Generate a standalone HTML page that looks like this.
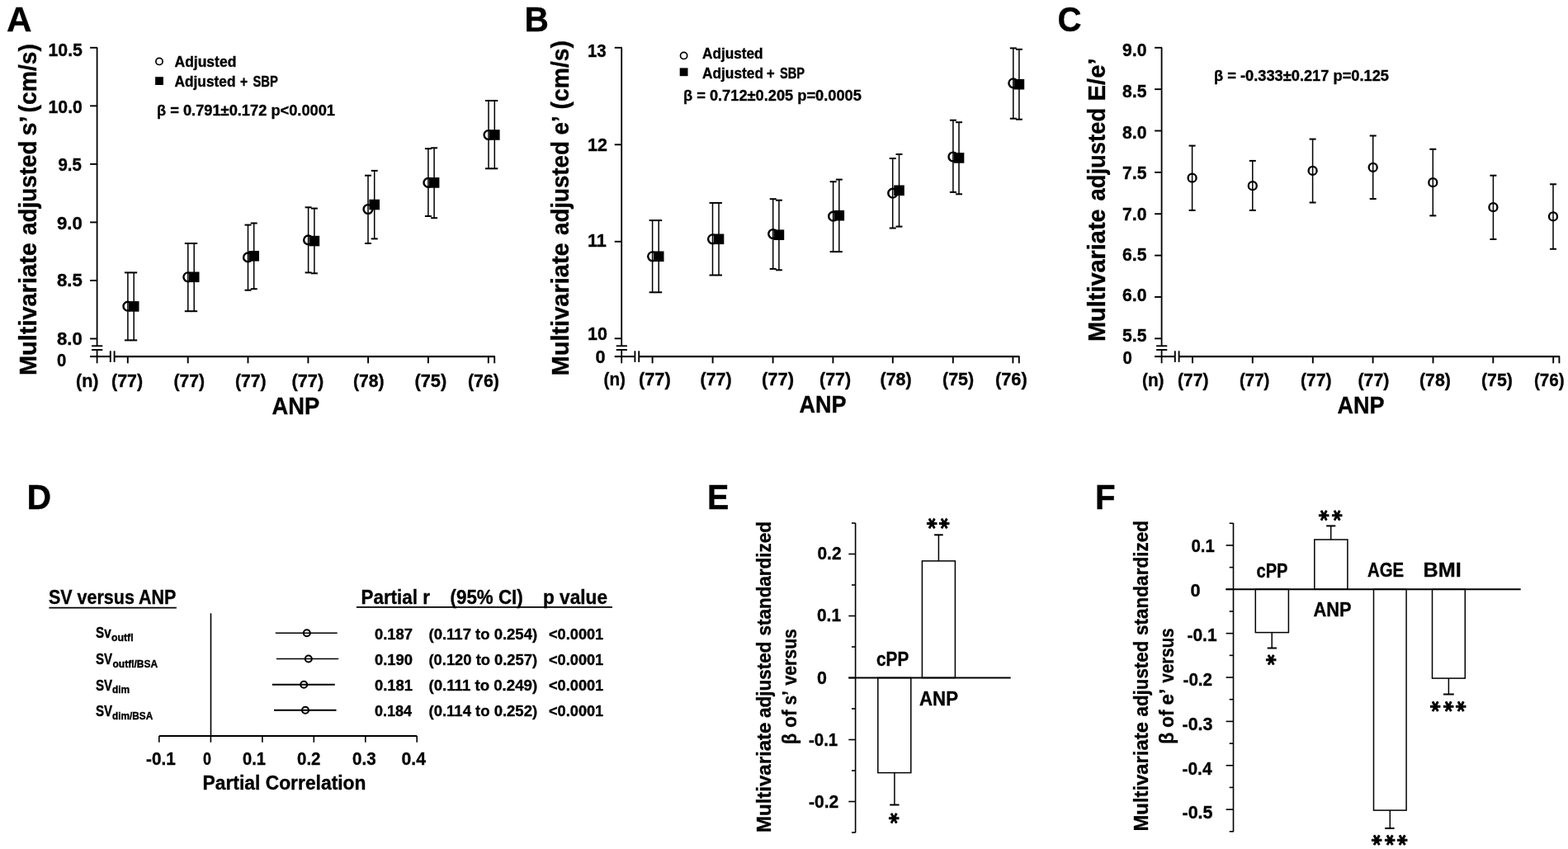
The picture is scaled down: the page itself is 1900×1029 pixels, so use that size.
<!DOCTYPE html><html><head><meta charset="utf-8"><style>
html,body{margin:0;padding:0;background:#fff;}
svg{display:block;}
text{font-family:"Liberation Sans",Arial,sans-serif;font-weight:bold;fill:#000;stroke:#000;stroke-width:0.35px;}
text.st{font-family:"DejaVu Sans",sans-serif;stroke:#000;stroke-width:1.0px;stroke-linejoin:round;}
</style></head><body><svg width="1900" height="1029" viewBox="0 0 1900 1029">
<g stroke="#000" stroke-linecap="butt" fill="none">
<line x1="117.60" y1="57.80" x2="117.60" y2="419.30" stroke-width="1.8"/>
<line x1="117.60" y1="424.00" x2="117.60" y2="440.30" stroke-width="1.8"/>
<line x1="109.10" y1="57.80" x2="118.10" y2="57.80" stroke-width="1.9"/>
<line x1="109.10" y1="128.34" x2="118.10" y2="128.34" stroke-width="1.9"/>
<line x1="109.10" y1="198.88" x2="118.10" y2="198.88" stroke-width="1.9"/>
<line x1="109.10" y1="269.42" x2="118.10" y2="269.42" stroke-width="1.9"/>
<line x1="109.10" y1="339.96" x2="118.10" y2="339.96" stroke-width="1.9"/>
<line x1="109.10" y1="410.50" x2="118.10" y2="410.50" stroke-width="1.9"/>
<line x1="111.10" y1="419.30" x2="124.30" y2="419.30" stroke-width="1.9"/>
<line x1="111.10" y1="424.00" x2="124.30" y2="424.00" stroke-width="1.9"/>
<line x1="109.10" y1="432.10" x2="133.80" y2="432.10" stroke-width="2.1"/>
<line x1="138.60" y1="432.10" x2="599.80" y2="432.10" stroke-width="2.1"/>
<line x1="133.80" y1="425.30" x2="133.80" y2="438.90" stroke-width="1.9"/>
<line x1="138.60" y1="425.30" x2="138.60" y2="438.90" stroke-width="1.9"/>
<line x1="154.80" y1="432.10" x2="154.80" y2="440.30" stroke-width="1.9"/>
<line x1="227.70" y1="432.10" x2="227.70" y2="440.30" stroke-width="1.9"/>
<line x1="300.50" y1="432.10" x2="300.50" y2="440.30" stroke-width="1.9"/>
<line x1="373.40" y1="432.10" x2="373.40" y2="440.30" stroke-width="1.9"/>
<line x1="446.10" y1="432.10" x2="446.10" y2="440.30" stroke-width="1.9"/>
<line x1="518.90" y1="432.10" x2="518.90" y2="440.30" stroke-width="1.9"/>
<line x1="591.80" y1="432.10" x2="591.80" y2="440.30" stroke-width="1.9"/>
<line x1="599.20" y1="432.10" x2="599.20" y2="440.30" stroke-width="1.9"/>
<line x1="753.20" y1="57.80" x2="753.20" y2="419.30" stroke-width="1.8"/>
<line x1="753.20" y1="424.00" x2="753.20" y2="440.30" stroke-width="1.8"/>
<line x1="744.70" y1="57.80" x2="753.70" y2="57.80" stroke-width="1.9"/>
<line x1="744.70" y1="175.30" x2="753.70" y2="175.30" stroke-width="1.9"/>
<line x1="744.70" y1="292.80" x2="753.70" y2="292.80" stroke-width="1.9"/>
<line x1="744.70" y1="410.30" x2="753.70" y2="410.30" stroke-width="1.9"/>
<line x1="746.70" y1="419.30" x2="759.90" y2="419.30" stroke-width="1.9"/>
<line x1="746.70" y1="424.00" x2="759.90" y2="424.00" stroke-width="1.9"/>
<line x1="744.70" y1="432.10" x2="769.40" y2="432.10" stroke-width="2.1"/>
<line x1="774.20" y1="432.10" x2="1235.40" y2="432.10" stroke-width="2.1"/>
<line x1="769.40" y1="425.30" x2="769.40" y2="438.90" stroke-width="1.9"/>
<line x1="774.20" y1="425.30" x2="774.20" y2="438.90" stroke-width="1.9"/>
<line x1="790.60" y1="432.10" x2="790.60" y2="440.30" stroke-width="1.9"/>
<line x1="863.60" y1="432.10" x2="863.60" y2="440.30" stroke-width="1.9"/>
<line x1="936.60" y1="432.10" x2="936.60" y2="440.30" stroke-width="1.9"/>
<line x1="1009.40" y1="432.10" x2="1009.40" y2="440.30" stroke-width="1.9"/>
<line x1="1081.80" y1="432.10" x2="1081.80" y2="440.30" stroke-width="1.9"/>
<line x1="1154.80" y1="432.10" x2="1154.80" y2="440.30" stroke-width="1.9"/>
<line x1="1227.40" y1="432.10" x2="1227.40" y2="440.30" stroke-width="1.9"/>
<line x1="1234.80" y1="432.10" x2="1234.80" y2="440.30" stroke-width="1.9"/>
<line x1="154.90" y1="330.40" x2="154.90" y2="412.40" stroke-width="1.5"/>
<line x1="150.90" y1="330.40" x2="158.90" y2="330.40" stroke-width="2.0"/>
<line x1="150.90" y1="412.40" x2="158.90" y2="412.40" stroke-width="2.0"/>
<line x1="162.20" y1="330.40" x2="162.20" y2="412.40" stroke-width="1.5"/>
<line x1="158.20" y1="330.40" x2="166.20" y2="330.40" stroke-width="2.0"/>
<line x1="158.20" y1="412.40" x2="166.20" y2="412.40" stroke-width="2.0"/>
<circle cx="154.90" cy="371.20" r="5.40" fill="none" stroke-width="2.4"/>
<rect x="155.90" y="365.10" width="12.60" height="12.60" fill="#000" stroke="none"/>
<line x1="227.80" y1="295.00" x2="227.80" y2="377.20" stroke-width="1.5"/>
<line x1="223.80" y1="295.00" x2="231.80" y2="295.00" stroke-width="2.0"/>
<line x1="223.80" y1="377.20" x2="231.80" y2="377.20" stroke-width="2.0"/>
<line x1="235.20" y1="295.00" x2="235.20" y2="377.20" stroke-width="1.5"/>
<line x1="231.20" y1="295.00" x2="239.20" y2="295.00" stroke-width="2.0"/>
<line x1="231.20" y1="377.20" x2="239.20" y2="377.20" stroke-width="2.0"/>
<circle cx="227.80" cy="335.80" r="5.40" fill="none" stroke-width="2.4"/>
<rect x="228.90" y="329.50" width="12.60" height="12.60" fill="#000" stroke="none"/>
<line x1="300.50" y1="272.60" x2="300.50" y2="351.70" stroke-width="1.5"/>
<line x1="296.50" y1="272.60" x2="304.50" y2="272.60" stroke-width="2.0"/>
<line x1="296.50" y1="351.70" x2="304.50" y2="351.70" stroke-width="2.0"/>
<line x1="307.70" y1="270.50" x2="307.70" y2="350.20" stroke-width="1.5"/>
<line x1="303.70" y1="270.50" x2="311.70" y2="270.50" stroke-width="2.0"/>
<line x1="303.70" y1="350.20" x2="311.70" y2="350.20" stroke-width="2.0"/>
<circle cx="300.50" cy="311.90" r="5.40" fill="none" stroke-width="2.4"/>
<rect x="301.40" y="304.00" width="12.60" height="12.60" fill="#000" stroke="none"/>
<line x1="373.60" y1="251.30" x2="373.60" y2="330.40" stroke-width="1.5"/>
<line x1="369.60" y1="251.30" x2="377.60" y2="251.30" stroke-width="2.0"/>
<line x1="369.60" y1="330.40" x2="377.60" y2="330.40" stroke-width="2.0"/>
<line x1="380.90" y1="252.60" x2="380.90" y2="331.30" stroke-width="1.5"/>
<line x1="376.90" y1="252.60" x2="384.90" y2="252.60" stroke-width="2.0"/>
<line x1="376.90" y1="331.30" x2="384.90" y2="331.30" stroke-width="2.0"/>
<circle cx="373.60" cy="290.90" r="5.40" fill="none" stroke-width="2.4"/>
<rect x="374.60" y="285.80" width="12.60" height="12.60" fill="#000" stroke="none"/>
<line x1="446.00" y1="212.70" x2="446.00" y2="295.00" stroke-width="1.5"/>
<line x1="442.00" y1="212.70" x2="450.00" y2="212.70" stroke-width="2.0"/>
<line x1="442.00" y1="295.00" x2="450.00" y2="295.00" stroke-width="2.0"/>
<line x1="453.70" y1="206.90" x2="453.70" y2="289.40" stroke-width="1.5"/>
<line x1="449.70" y1="206.90" x2="457.70" y2="206.90" stroke-width="2.0"/>
<line x1="449.70" y1="289.40" x2="457.70" y2="289.40" stroke-width="2.0"/>
<circle cx="446.00" cy="253.50" r="5.40" fill="none" stroke-width="2.4"/>
<rect x="447.40" y="241.70" width="12.60" height="12.60" fill="#000" stroke="none"/>
<line x1="518.90" y1="180.20" x2="518.90" y2="262.00" stroke-width="1.5"/>
<line x1="514.90" y1="180.20" x2="522.90" y2="180.20" stroke-width="2.0"/>
<line x1="514.90" y1="262.00" x2="522.90" y2="262.00" stroke-width="2.0"/>
<line x1="526.10" y1="179.30" x2="526.10" y2="264.20" stroke-width="1.5"/>
<line x1="522.10" y1="179.30" x2="530.10" y2="179.30" stroke-width="2.0"/>
<line x1="522.10" y1="264.20" x2="530.10" y2="264.20" stroke-width="2.0"/>
<circle cx="518.90" cy="221.40" r="5.40" fill="none" stroke-width="2.4"/>
<rect x="519.80" y="215.10" width="12.60" height="12.60" fill="#000" stroke="none"/>
<line x1="592.00" y1="122.00" x2="592.00" y2="204.30" stroke-width="1.5"/>
<line x1="588.00" y1="122.00" x2="596.00" y2="122.00" stroke-width="2.0"/>
<line x1="588.00" y1="204.30" x2="596.00" y2="204.30" stroke-width="2.0"/>
<line x1="599.30" y1="122.00" x2="599.30" y2="204.30" stroke-width="1.5"/>
<line x1="595.30" y1="122.00" x2="603.30" y2="122.00" stroke-width="2.0"/>
<line x1="595.30" y1="204.30" x2="603.30" y2="204.30" stroke-width="2.0"/>
<circle cx="592.00" cy="163.50" r="5.40" fill="none" stroke-width="2.4"/>
<rect x="593.00" y="157.20" width="12.60" height="12.60" fill="#000" stroke="none"/>
<line x1="790.60" y1="267.10" x2="790.60" y2="354.30" stroke-width="1.5"/>
<line x1="786.60" y1="267.10" x2="794.60" y2="267.10" stroke-width="2.0"/>
<line x1="786.60" y1="354.30" x2="794.60" y2="354.30" stroke-width="2.0"/>
<line x1="798.20" y1="267.10" x2="798.20" y2="354.30" stroke-width="1.5"/>
<line x1="794.20" y1="267.10" x2="802.20" y2="267.10" stroke-width="2.0"/>
<line x1="794.20" y1="354.30" x2="802.20" y2="354.30" stroke-width="2.0"/>
<circle cx="790.60" cy="310.80" r="5.40" fill="none" stroke-width="2.4"/>
<rect x="791.90" y="304.50" width="12.60" height="12.60" fill="#000" stroke="none"/>
<line x1="863.50" y1="245.90" x2="863.50" y2="333.50" stroke-width="1.5"/>
<line x1="859.50" y1="245.90" x2="867.50" y2="245.90" stroke-width="2.0"/>
<line x1="859.50" y1="333.50" x2="867.50" y2="333.50" stroke-width="2.0"/>
<line x1="871.00" y1="245.90" x2="871.00" y2="333.50" stroke-width="1.5"/>
<line x1="867.00" y1="245.90" x2="875.00" y2="245.90" stroke-width="2.0"/>
<line x1="867.00" y1="333.50" x2="875.00" y2="333.50" stroke-width="2.0"/>
<circle cx="863.50" cy="289.80" r="5.40" fill="none" stroke-width="2.4"/>
<rect x="864.70" y="283.50" width="12.60" height="12.60" fill="#000" stroke="none"/>
<line x1="936.70" y1="241.20" x2="936.70" y2="325.90" stroke-width="1.5"/>
<line x1="932.70" y1="241.20" x2="940.70" y2="241.20" stroke-width="2.0"/>
<line x1="932.70" y1="325.90" x2="940.70" y2="325.90" stroke-width="2.0"/>
<line x1="943.90" y1="242.70" x2="943.90" y2="327.30" stroke-width="1.5"/>
<line x1="939.90" y1="242.70" x2="947.90" y2="242.70" stroke-width="2.0"/>
<line x1="939.90" y1="327.30" x2="947.90" y2="327.30" stroke-width="2.0"/>
<circle cx="936.70" cy="283.50" r="5.40" fill="none" stroke-width="2.4"/>
<rect x="937.60" y="278.40" width="12.60" height="12.60" fill="#000" stroke="none"/>
<line x1="1009.60" y1="220.20" x2="1009.60" y2="305.10" stroke-width="1.5"/>
<line x1="1005.60" y1="220.20" x2="1013.60" y2="220.20" stroke-width="2.0"/>
<line x1="1005.60" y1="305.10" x2="1013.60" y2="305.10" stroke-width="2.0"/>
<line x1="1016.80" y1="217.60" x2="1016.80" y2="305.10" stroke-width="1.5"/>
<line x1="1012.80" y1="217.60" x2="1020.80" y2="217.60" stroke-width="2.0"/>
<line x1="1012.80" y1="305.10" x2="1020.80" y2="305.10" stroke-width="2.0"/>
<circle cx="1009.60" cy="262.20" r="5.40" fill="none" stroke-width="2.4"/>
<rect x="1010.50" y="254.90" width="12.60" height="12.60" fill="#000" stroke="none"/>
<line x1="1081.70" y1="192.00" x2="1081.70" y2="276.50" stroke-width="1.5"/>
<line x1="1077.70" y1="192.00" x2="1085.70" y2="192.00" stroke-width="2.0"/>
<line x1="1077.70" y1="276.50" x2="1085.70" y2="276.50" stroke-width="2.0"/>
<line x1="1089.50" y1="187.00" x2="1089.50" y2="274.60" stroke-width="1.5"/>
<line x1="1085.50" y1="187.00" x2="1093.50" y2="187.00" stroke-width="2.0"/>
<line x1="1085.50" y1="274.60" x2="1093.50" y2="274.60" stroke-width="2.0"/>
<circle cx="1081.70" cy="234.20" r="5.40" fill="none" stroke-width="2.4"/>
<rect x="1083.20" y="224.50" width="12.60" height="12.60" fill="#000" stroke="none"/>
<line x1="1154.90" y1="145.70" x2="1154.90" y2="232.90" stroke-width="1.5"/>
<line x1="1150.90" y1="145.70" x2="1158.90" y2="145.70" stroke-width="2.0"/>
<line x1="1150.90" y1="232.90" x2="1158.90" y2="232.90" stroke-width="2.0"/>
<line x1="1162.00" y1="148.20" x2="1162.00" y2="235.30" stroke-width="1.5"/>
<line x1="1158.00" y1="148.20" x2="1166.00" y2="148.20" stroke-width="2.0"/>
<line x1="1158.00" y1="235.30" x2="1166.00" y2="235.30" stroke-width="2.0"/>
<circle cx="1154.90" cy="190.00" r="5.40" fill="none" stroke-width="2.4"/>
<rect x="1155.70" y="185.10" width="12.60" height="12.60" fill="#000" stroke="none"/>
<line x1="1227.80" y1="58.40" x2="1227.80" y2="143.70" stroke-width="1.5"/>
<line x1="1223.80" y1="58.40" x2="1231.80" y2="58.40" stroke-width="2.0"/>
<line x1="1223.80" y1="143.70" x2="1231.80" y2="143.70" stroke-width="2.0"/>
<line x1="1234.90" y1="59.80" x2="1234.90" y2="144.70" stroke-width="1.5"/>
<line x1="1230.90" y1="59.80" x2="1238.90" y2="59.80" stroke-width="2.0"/>
<line x1="1230.90" y1="144.70" x2="1238.90" y2="144.70" stroke-width="2.0"/>
<circle cx="1227.80" cy="100.80" r="5.40" fill="none" stroke-width="2.4"/>
<rect x="1228.60" y="95.90" width="12.60" height="12.60" fill="#000" stroke="none"/>
<line x1="1407.60" y1="57.80" x2="1407.60" y2="419.30" stroke-width="1.8"/>
<line x1="1407.60" y1="424.00" x2="1407.60" y2="440.30" stroke-width="1.8"/>
<line x1="1399.10" y1="57.80" x2="1408.10" y2="57.80" stroke-width="1.9"/>
<line x1="1399.10" y1="108.16" x2="1408.10" y2="108.16" stroke-width="1.9"/>
<line x1="1399.10" y1="158.52" x2="1408.10" y2="158.52" stroke-width="1.9"/>
<line x1="1399.10" y1="208.88" x2="1408.10" y2="208.88" stroke-width="1.9"/>
<line x1="1399.10" y1="259.24" x2="1408.10" y2="259.24" stroke-width="1.9"/>
<line x1="1399.10" y1="309.60" x2="1408.10" y2="309.60" stroke-width="1.9"/>
<line x1="1399.10" y1="359.96" x2="1408.10" y2="359.96" stroke-width="1.9"/>
<line x1="1399.10" y1="410.32" x2="1408.10" y2="410.32" stroke-width="1.9"/>
<line x1="1401.10" y1="419.30" x2="1414.30" y2="419.30" stroke-width="1.9"/>
<line x1="1401.10" y1="424.00" x2="1414.30" y2="424.00" stroke-width="1.9"/>
<line x1="1399.10" y1="432.10" x2="1423.80" y2="432.10" stroke-width="2.1"/>
<line x1="1428.60" y1="432.10" x2="1890.00" y2="432.10" stroke-width="2.1"/>
<line x1="1423.80" y1="425.30" x2="1423.80" y2="438.90" stroke-width="1.9"/>
<line x1="1428.60" y1="425.30" x2="1428.60" y2="438.90" stroke-width="1.9"/>
<line x1="1445.00" y1="432.10" x2="1445.00" y2="440.30" stroke-width="1.9"/>
<line x1="1517.80" y1="432.10" x2="1517.80" y2="440.30" stroke-width="1.9"/>
<line x1="1590.80" y1="432.10" x2="1590.80" y2="440.30" stroke-width="1.9"/>
<line x1="1663.60" y1="432.10" x2="1663.60" y2="440.30" stroke-width="1.9"/>
<line x1="1736.50" y1="432.10" x2="1736.50" y2="440.30" stroke-width="1.9"/>
<line x1="1809.30" y1="432.10" x2="1809.30" y2="440.30" stroke-width="1.9"/>
<line x1="1882.20" y1="432.10" x2="1882.20" y2="440.30" stroke-width="1.9"/>
<line x1="1889.40" y1="432.10" x2="1889.40" y2="440.30" stroke-width="1.9"/>
<line x1="1444.60" y1="176.60" x2="1444.60" y2="254.90" stroke-width="1.5"/>
<line x1="1440.60" y1="176.60" x2="1448.60" y2="176.60" stroke-width="2.0"/>
<line x1="1440.60" y1="254.90" x2="1448.60" y2="254.90" stroke-width="2.0"/>
<circle cx="1444.60" cy="215.70" r="5.00" fill="none" stroke-width="2.3"/>
<line x1="1517.80" y1="194.90" x2="1517.80" y2="254.90" stroke-width="1.5"/>
<line x1="1513.80" y1="194.90" x2="1521.80" y2="194.90" stroke-width="2.0"/>
<line x1="1513.80" y1="254.90" x2="1521.80" y2="254.90" stroke-width="2.0"/>
<circle cx="1517.80" cy="225.20" r="5.00" fill="none" stroke-width="2.3"/>
<line x1="1590.60" y1="168.60" x2="1590.60" y2="245.50" stroke-width="1.5"/>
<line x1="1586.60" y1="168.60" x2="1594.60" y2="168.60" stroke-width="2.0"/>
<line x1="1586.60" y1="245.50" x2="1594.60" y2="245.50" stroke-width="2.0"/>
<circle cx="1590.60" cy="206.90" r="5.00" fill="none" stroke-width="2.3"/>
<line x1="1663.70" y1="164.50" x2="1663.70" y2="241.00" stroke-width="1.5"/>
<line x1="1659.70" y1="164.50" x2="1667.70" y2="164.50" stroke-width="2.0"/>
<line x1="1659.70" y1="241.00" x2="1667.70" y2="241.00" stroke-width="2.0"/>
<circle cx="1663.70" cy="202.90" r="5.00" fill="none" stroke-width="2.3"/>
<line x1="1736.30" y1="180.80" x2="1736.30" y2="261.40" stroke-width="1.5"/>
<line x1="1732.30" y1="180.80" x2="1740.30" y2="180.80" stroke-width="2.0"/>
<line x1="1732.30" y1="261.40" x2="1740.30" y2="261.40" stroke-width="2.0"/>
<circle cx="1736.30" cy="221.20" r="5.00" fill="none" stroke-width="2.3"/>
<line x1="1809.40" y1="212.70" x2="1809.40" y2="290.00" stroke-width="1.5"/>
<line x1="1805.40" y1="212.70" x2="1813.40" y2="212.70" stroke-width="2.0"/>
<line x1="1805.40" y1="290.00" x2="1813.40" y2="290.00" stroke-width="2.0"/>
<circle cx="1809.40" cy="251.20" r="5.00" fill="none" stroke-width="2.3"/>
<line x1="1882.00" y1="223.30" x2="1882.00" y2="301.80" stroke-width="1.5"/>
<line x1="1878.00" y1="223.30" x2="1886.00" y2="223.30" stroke-width="2.0"/>
<line x1="1878.00" y1="301.80" x2="1886.00" y2="301.80" stroke-width="2.0"/>
<circle cx="1882.00" cy="262.40" r="5.00" fill="none" stroke-width="2.3"/>
<circle cx="193.00" cy="74.40" r="4.10" fill="none" stroke-width="1.7"/>
<rect x="188.10" y="93.20" width="9.80" height="9.80" fill="#000" stroke="none"/>
<circle cx="828.60" cy="67.40" r="4.10" fill="none" stroke-width="1.7"/>
<rect x="823.70" y="82.40" width="9.80" height="9.80" fill="#000" stroke="none"/>
<line x1="59.40" y1="736.60" x2="213.90" y2="736.60" stroke-width="1.8"/>
<line x1="431.90" y1="735.90" x2="742.00" y2="735.90" stroke-width="1.8"/>
<line x1="255.50" y1="743.30" x2="255.50" y2="892.00" stroke-width="1.6"/>
<line x1="192.80" y1="892.00" x2="505.20" y2="892.00" stroke-width="2.1"/>
<line x1="192.80" y1="892.00" x2="192.80" y2="899.80" stroke-width="1.6"/>
<line x1="255.40" y1="892.00" x2="255.40" y2="899.80" stroke-width="1.6"/>
<line x1="317.90" y1="892.00" x2="317.90" y2="899.80" stroke-width="1.6"/>
<line x1="380.30" y1="892.00" x2="380.30" y2="899.80" stroke-width="1.6"/>
<line x1="442.80" y1="892.00" x2="442.80" y2="899.80" stroke-width="1.6"/>
<line x1="505.20" y1="892.00" x2="505.20" y2="899.80" stroke-width="1.6"/>
<line x1="333.80" y1="767.30" x2="408.70" y2="767.30" stroke-width="1.5"/>
<circle cx="371.80" cy="767.30" r="4.00" fill="none" stroke-width="2.1"/>
<line x1="334.90" y1="798.50" x2="410.20" y2="798.50" stroke-width="1.5"/>
<circle cx="373.80" cy="798.50" r="4.00" fill="none" stroke-width="2.1"/>
<line x1="329.80" y1="829.80" x2="405.80" y2="829.80" stroke-width="2.0"/>
<circle cx="368.20" cy="829.80" r="4.00" fill="none" stroke-width="2.1"/>
<line x1="332.00" y1="860.70" x2="407.50" y2="860.70" stroke-width="2.0"/>
<circle cx="370.00" cy="860.70" r="4.00" fill="none" stroke-width="2.1"/>
<line x1="1036.60" y1="634.00" x2="1036.60" y2="1009.30" stroke-width="1.6"/>
<line x1="1032.00" y1="1009.00" x2="1036.60" y2="1009.00" stroke-width="1.6"/>
<line x1="1028.30" y1="971.50" x2="1036.60" y2="971.50" stroke-width="1.6"/>
<line x1="1032.00" y1="934.00" x2="1036.60" y2="934.00" stroke-width="1.6"/>
<line x1="1028.30" y1="896.50" x2="1036.60" y2="896.50" stroke-width="1.6"/>
<line x1="1032.00" y1="859.00" x2="1036.60" y2="859.00" stroke-width="1.6"/>
<line x1="1028.30" y1="821.50" x2="1036.60" y2="821.50" stroke-width="1.6"/>
<line x1="1032.00" y1="784.00" x2="1036.60" y2="784.00" stroke-width="1.6"/>
<line x1="1028.30" y1="746.50" x2="1036.60" y2="746.50" stroke-width="1.6"/>
<line x1="1032.00" y1="709.00" x2="1036.60" y2="709.00" stroke-width="1.6"/>
<line x1="1028.30" y1="671.50" x2="1036.60" y2="671.50" stroke-width="1.6"/>
<line x1="1032.00" y1="634.00" x2="1036.60" y2="634.00" stroke-width="1.6"/>
<line x1="1028.30" y1="821.50" x2="1224.70" y2="821.50" stroke-width="2.1"/>
<rect x="1063.80" y="821.50" width="40.00" height="115.10" fill="none" stroke-width="1.5"/>
<line x1="1083.90" y1="936.60" x2="1083.90" y2="975.50" stroke-width="1.5"/>
<line x1="1078.20" y1="975.50" x2="1089.60" y2="975.50" stroke-width="2.0"/>
<rect x="1117.40" y="679.90" width="40.00" height="141.60" fill="none" stroke-width="1.5"/>
<line x1="1137.40" y1="679.90" x2="1137.40" y2="648.30" stroke-width="1.5"/>
<line x1="1132.10" y1="648.30" x2="1142.70" y2="648.30" stroke-width="2.0"/>
<line x1="1494.50" y1="634.00" x2="1494.50" y2="1008.30" stroke-width="1.6"/>
<line x1="1489.70" y1="1007.78" x2="1494.50" y2="1007.78" stroke-width="1.6"/>
<line x1="1485.60" y1="981.10" x2="1494.50" y2="981.10" stroke-width="1.6"/>
<line x1="1489.70" y1="954.42" x2="1494.50" y2="954.42" stroke-width="1.6"/>
<line x1="1485.60" y1="927.74" x2="1494.50" y2="927.74" stroke-width="1.6"/>
<line x1="1489.70" y1="901.06" x2="1494.50" y2="901.06" stroke-width="1.6"/>
<line x1="1485.60" y1="874.38" x2="1494.50" y2="874.38" stroke-width="1.6"/>
<line x1="1489.70" y1="847.70" x2="1494.50" y2="847.70" stroke-width="1.6"/>
<line x1="1485.60" y1="821.02" x2="1494.50" y2="821.02" stroke-width="1.6"/>
<line x1="1489.70" y1="794.34" x2="1494.50" y2="794.34" stroke-width="1.6"/>
<line x1="1485.60" y1="767.66" x2="1494.50" y2="767.66" stroke-width="1.6"/>
<line x1="1489.70" y1="740.98" x2="1494.50" y2="740.98" stroke-width="1.6"/>
<line x1="1485.60" y1="714.30" x2="1494.50" y2="714.30" stroke-width="1.6"/>
<line x1="1489.70" y1="687.62" x2="1494.50" y2="687.62" stroke-width="1.6"/>
<line x1="1485.60" y1="660.94" x2="1494.50" y2="660.94" stroke-width="1.6"/>
<line x1="1489.70" y1="634.26" x2="1494.50" y2="634.26" stroke-width="1.6"/>
<line x1="1485.40" y1="714.30" x2="1842.70" y2="714.30" stroke-width="2.1"/>
<rect x="1521.30" y="714.30" width="40.10" height="52.30" fill="none" stroke-width="1.5"/>
<line x1="1541.20" y1="766.60" x2="1541.20" y2="785.50" stroke-width="1.5"/>
<line x1="1535.70" y1="785.50" x2="1547.00" y2="785.50" stroke-width="2.0"/>
<rect x="1592.80" y="654.00" width="40.10" height="60.30" fill="none" stroke-width="1.5"/>
<line x1="1612.70" y1="654.00" x2="1612.70" y2="637.40" stroke-width="1.5"/>
<line x1="1607.20" y1="637.40" x2="1618.30" y2="637.40" stroke-width="2.0"/>
<rect x="1664.50" y="714.30" width="39.60" height="267.80" fill="none" stroke-width="1.5"/>
<line x1="1684.30" y1="982.10" x2="1684.30" y2="1003.90" stroke-width="1.5"/>
<line x1="1678.20" y1="1003.90" x2="1689.60" y2="1003.90" stroke-width="2.0"/>
<rect x="1735.50" y="714.30" width="39.80" height="107.80" fill="none" stroke-width="1.5"/>
<line x1="1755.40" y1="822.10" x2="1755.40" y2="841.50" stroke-width="1.5"/>
<line x1="1749.00" y1="841.50" x2="1761.80" y2="841.50" stroke-width="2.0"/>
</g>
<g>
<text x="8.00" y="37.80" font-size="43.30" textLength="30.52" lengthAdjust="spacingAndGlyphs">A</text>
<text x="635.50" y="37.90" font-size="43.30" textLength="29.41" lengthAdjust="spacingAndGlyphs">B</text>
<text x="1281.50" y="38.20" font-size="43.30" textLength="29.05" lengthAdjust="spacingAndGlyphs">C</text>
<text x="32.50" y="616.80" font-size="43.30" textLength="29.64" lengthAdjust="spacingAndGlyphs">D</text>
<text x="857.00" y="616.80" font-size="43.30" textLength="26.34" lengthAdjust="spacingAndGlyphs">E</text>
<text x="1327.00" y="616.80" font-size="43.30" textLength="24.62" lengthAdjust="spacingAndGlyphs">F</text>
<text transform="translate(44.00,136.50) rotate(-90)" x="0" y="0" font-size="29.50" textLength="83.47" lengthAdjust="spacingAndGlyphs">(cm/s)</text>
<text transform="translate(44.00,164.50) rotate(-90)" x="0" y="0" font-size="29.50" textLength="24.00" lengthAdjust="spacingAndGlyphs">s’</text>
<text transform="translate(44.00,285.00) rotate(-90)" x="0" y="0" font-size="29.50" textLength="114.65" lengthAdjust="spacingAndGlyphs">adjusted</text>
<text transform="translate(44.00,455.00) rotate(-90)" x="0" y="0" font-size="29.50" textLength="160.84" lengthAdjust="spacingAndGlyphs">Multivariate</text>
<text x="58.50" y="67.50" font-size="22.10" textLength="41.46" lengthAdjust="spacingAndGlyphs">10.5</text>
<text x="58.50" y="137.30" font-size="22.10" textLength="41.44" lengthAdjust="spacingAndGlyphs">10.0</text>
<text x="70.50" y="206.50" font-size="22.10" textLength="28.40" lengthAdjust="spacingAndGlyphs">9.5</text>
<text x="69.00" y="277.90" font-size="22.10" textLength="30.84" lengthAdjust="spacingAndGlyphs">9.0</text>
<text x="69.00" y="347.20" font-size="22.10" textLength="30.84" lengthAdjust="spacingAndGlyphs">8.5</text>
<text x="69.00" y="417.60" font-size="22.10" textLength="30.84" lengthAdjust="spacingAndGlyphs">8.0</text>
<text x="69.00" y="444.40" font-size="22.10" textLength="11.34" lengthAdjust="spacingAndGlyphs">0</text>
<text x="211.50" y="80.60" font-size="18.20" textLength="74.82" lengthAdjust="spacingAndGlyphs">Adjusted</text>
<text x="211.50" y="105.00" font-size="18.20" textLength="74.03" lengthAdjust="spacingAndGlyphs">Adjusted</text>
<text x="291.00" y="105.00" font-size="18.20" textLength="9.11" lengthAdjust="spacingAndGlyphs">+</text>
<text x="306.50" y="105.00" font-size="18.20" textLength="30.44" lengthAdjust="spacingAndGlyphs">SBP</text>
<text x="190.00" y="139.90" font-size="18.20" textLength="216.01" lengthAdjust="spacingAndGlyphs">β = 0.791±0.172 p&lt;0.0001</text>
<text x="92.00" y="468.80" font-size="22.00" textLength="27.49" lengthAdjust="spacingAndGlyphs">(n)</text>
<text x="135.00" y="468.80" font-size="22.00" textLength="38.06" lengthAdjust="spacingAndGlyphs">(77)</text>
<text x="210.50" y="468.80" font-size="22.00" textLength="37.66" lengthAdjust="spacingAndGlyphs">(77)</text>
<text x="285.00" y="468.80" font-size="22.00" textLength="37.66" lengthAdjust="spacingAndGlyphs">(77)</text>
<text x="353.50" y="468.80" font-size="22.00" textLength="38.66" lengthAdjust="spacingAndGlyphs">(77)</text>
<text x="428.00" y="468.80" font-size="22.00" textLength="37.62" lengthAdjust="spacingAndGlyphs">(78)</text>
<text x="502.50" y="468.80" font-size="22.00" textLength="38.72" lengthAdjust="spacingAndGlyphs">(75)</text>
<text x="567.00" y="468.80" font-size="22.00" textLength="37.86" lengthAdjust="spacingAndGlyphs">(76)</text>
<text x="329.50" y="502.40" font-size="29.20" textLength="57.61" lengthAdjust="spacingAndGlyphs">ANP</text>
<text transform="translate(688.70,132.50) rotate(-90)" x="0" y="0" font-size="29.50" textLength="83.50" lengthAdjust="spacingAndGlyphs">(cm/s)</text>
<text transform="translate(688.70,163.50) rotate(-90)" x="0" y="0" font-size="29.50" textLength="23.23" lengthAdjust="spacingAndGlyphs">e’</text>
<text transform="translate(688.70,285.00) rotate(-90)" x="0" y="0" font-size="29.50" textLength="113.84" lengthAdjust="spacingAndGlyphs">adjusted</text>
<text transform="translate(688.70,455.50) rotate(-90)" x="0" y="0" font-size="29.50" textLength="161.24" lengthAdjust="spacingAndGlyphs">Multivariate</text>
<text x="712.00" y="68.90" font-size="22.10" textLength="22.70" lengthAdjust="spacingAndGlyphs">13</text>
<text x="712.00" y="183.40" font-size="22.10" textLength="23.90" lengthAdjust="spacingAndGlyphs">12</text>
<text x="712.00" y="298.60" font-size="22.10" textLength="22.85" lengthAdjust="spacingAndGlyphs">11</text>
<text x="712.00" y="412.30" font-size="22.10" textLength="23.90" lengthAdjust="spacingAndGlyphs">10</text>
<text x="721.50" y="439.50" font-size="22.10" textLength="12.10" lengthAdjust="spacingAndGlyphs">0</text>
<text x="851.00" y="70.70" font-size="18.20" textLength="73.63" lengthAdjust="spacingAndGlyphs">Adjusted</text>
<text x="851.00" y="95.30" font-size="18.20" textLength="74.01" lengthAdjust="spacingAndGlyphs">Adjusted</text>
<text x="929.00" y="95.30" font-size="18.20" textLength="9.68" lengthAdjust="spacingAndGlyphs">+</text>
<text x="945.00" y="95.30" font-size="18.20" textLength="30.00" lengthAdjust="spacingAndGlyphs">SBP</text>
<text x="828.00" y="122.00" font-size="18.20" textLength="215.81" lengthAdjust="spacingAndGlyphs">β = 0.712±0.205 p=0.0005</text>
<text x="731.50" y="466.80" font-size="22.00" textLength="26.43" lengthAdjust="spacingAndGlyphs">(n)</text>
<text x="774.00" y="466.80" font-size="22.00" textLength="38.72" lengthAdjust="spacingAndGlyphs">(77)</text>
<text x="848.50" y="466.80" font-size="22.00" textLength="38.06" lengthAdjust="spacingAndGlyphs">(77)</text>
<text x="923.00" y="466.80" font-size="22.00" textLength="39.11" lengthAdjust="spacingAndGlyphs">(77)</text>
<text x="993.00" y="466.80" font-size="22.00" textLength="38.06" lengthAdjust="spacingAndGlyphs">(77)</text>
<text x="1066.50" y="466.80" font-size="22.00" textLength="38.06" lengthAdjust="spacingAndGlyphs">(78)</text>
<text x="1142.00" y="466.80" font-size="22.00" textLength="38.08" lengthAdjust="spacingAndGlyphs">(75)</text>
<text x="1206.00" y="466.80" font-size="22.00" textLength="38.72" lengthAdjust="spacingAndGlyphs">(76)</text>
<text x="968.50" y="500.10" font-size="29.20" textLength="57.02" lengthAdjust="spacingAndGlyphs">ANP</text>
<text transform="translate(1338.70,122.50) rotate(-90)" x="0" y="0" font-size="29.50" textLength="52.20" lengthAdjust="spacingAndGlyphs">E/e’</text>
<text transform="translate(1338.70,243.50) rotate(-90)" x="0" y="0" font-size="29.50" textLength="112.62" lengthAdjust="spacingAndGlyphs">adjusted</text>
<text transform="translate(1338.70,414.00) rotate(-90)" x="0" y="0" font-size="29.50" textLength="160.63" lengthAdjust="spacingAndGlyphs">Multivariate</text>
<text x="1360.00" y="67.50" font-size="22.10" textLength="29.43" lengthAdjust="spacingAndGlyphs">9.0</text>
<text x="1360.00" y="117.80" font-size="22.10" textLength="29.43" lengthAdjust="spacingAndGlyphs">8.5</text>
<text x="1360.00" y="167.60" font-size="22.10" textLength="29.43" lengthAdjust="spacingAndGlyphs">8.0</text>
<text x="1360.00" y="217.40" font-size="22.10" textLength="29.43" lengthAdjust="spacingAndGlyphs">7.5</text>
<text x="1360.00" y="267.00" font-size="22.10" textLength="29.43" lengthAdjust="spacingAndGlyphs">7.0</text>
<text x="1360.00" y="315.60" font-size="22.10" textLength="29.43" lengthAdjust="spacingAndGlyphs">6.5</text>
<text x="1360.00" y="365.40" font-size="22.10" textLength="29.43" lengthAdjust="spacingAndGlyphs">6.0</text>
<text x="1360.00" y="414.00" font-size="22.10" textLength="29.43" lengthAdjust="spacingAndGlyphs">5.5</text>
<text x="1360.50" y="441.00" font-size="22.10" textLength="11.37" lengthAdjust="spacingAndGlyphs">0</text>
<text x="1471.00" y="98.10" font-size="18.20" textLength="212.00" lengthAdjust="spacingAndGlyphs">β = -0.333±0.217 p=0.125</text>
<text x="1384.00" y="468.20" font-size="22.00" textLength="26.55" lengthAdjust="spacingAndGlyphs">(n)</text>
<text x="1427.00" y="468.20" font-size="22.00" textLength="37.44" lengthAdjust="spacingAndGlyphs">(77)</text>
<text x="1502.00" y="468.20" font-size="22.00" textLength="36.43" lengthAdjust="spacingAndGlyphs">(77)</text>
<text x="1576.00" y="468.20" font-size="22.00" textLength="37.44" lengthAdjust="spacingAndGlyphs">(77)</text>
<text x="1645.50" y="468.20" font-size="22.00" textLength="37.86" lengthAdjust="spacingAndGlyphs">(77)</text>
<text x="1720.00" y="468.20" font-size="22.00" textLength="37.89" lengthAdjust="spacingAndGlyphs">(78)</text>
<text x="1795.00" y="468.20" font-size="22.00" textLength="37.89" lengthAdjust="spacingAndGlyphs">(75)</text>
<text x="1859.00" y="468.20" font-size="22.00" textLength="36.66" lengthAdjust="spacingAndGlyphs">(76)</text>
<text x="1620.50" y="501.00" font-size="29.20" textLength="57.02" lengthAdjust="spacingAndGlyphs">ANP</text>
<text x="59.00" y="732.20" font-size="23.00" textLength="154.40" lengthAdjust="spacingAndGlyphs">SV versus ANP</text>
<text x="437.50" y="732.40" font-size="23.00" textLength="83.42" lengthAdjust="spacingAndGlyphs">Partial r</text>
<text x="545.50" y="732.40" font-size="23.00" textLength="88.22" lengthAdjust="spacingAndGlyphs">(95% CI)</text>
<text x="658.00" y="732.40" font-size="23.00" textLength="78.04" lengthAdjust="spacingAndGlyphs">p value</text>
<text x="454.00" y="774.90" font-size="19.00" textLength="46.02" lengthAdjust="spacingAndGlyphs">0.187</text>
<text x="519.50" y="774.90" font-size="19.00" textLength="131.61" lengthAdjust="spacingAndGlyphs">(0.117 to 0.254)</text>
<text x="665.00" y="774.90" font-size="19.00" textLength="66.21" lengthAdjust="spacingAndGlyphs">&lt;0.0001</text>
<text x="454.00" y="805.90" font-size="19.00" textLength="46.02" lengthAdjust="spacingAndGlyphs">0.190</text>
<text x="519.50" y="805.90" font-size="19.00" textLength="131.61" lengthAdjust="spacingAndGlyphs">(0.120 to 0.257)</text>
<text x="665.00" y="805.90" font-size="19.00" textLength="66.21" lengthAdjust="spacingAndGlyphs">&lt;0.0001</text>
<text x="454.00" y="836.80" font-size="19.00" textLength="46.05" lengthAdjust="spacingAndGlyphs">0.181</text>
<text x="519.50" y="836.80" font-size="19.00" textLength="131.61" lengthAdjust="spacingAndGlyphs">(0.111 to 0.249)</text>
<text x="665.00" y="836.80" font-size="19.00" textLength="66.21" lengthAdjust="spacingAndGlyphs">&lt;0.0001</text>
<text x="454.00" y="868.30" font-size="19.00" textLength="45.00" lengthAdjust="spacingAndGlyphs">0.184</text>
<text x="519.50" y="868.30" font-size="19.00" textLength="131.61" lengthAdjust="spacingAndGlyphs">(0.114 to 0.252)</text>
<text x="665.00" y="868.30" font-size="19.00" textLength="66.21" lengthAdjust="spacingAndGlyphs">&lt;0.0001</text>
<text x="116.00" y="773.40" font-size="18.00" textLength="18.62" lengthAdjust="spacingAndGlyphs">Sv</text>
<text x="135.00" y="777.20" font-size="12.00" textLength="26.63" lengthAdjust="spacingAndGlyphs">outfl</text>
<text x="116.00" y="805.00" font-size="18.00" textLength="20.22" lengthAdjust="spacingAndGlyphs">SV</text>
<text x="136.50" y="808.80" font-size="12.00" textLength="54.61" lengthAdjust="spacingAndGlyphs">outfl/BSA</text>
<text x="116.00" y="836.60" font-size="18.00" textLength="20.22" lengthAdjust="spacingAndGlyphs">SV</text>
<text x="136.00" y="840.00" font-size="12.00" textLength="21.23" lengthAdjust="spacingAndGlyphs">dim</text>
<text x="116.00" y="868.20" font-size="18.00" textLength="20.22" lengthAdjust="spacingAndGlyphs">SV</text>
<text x="136.00" y="871.60" font-size="12.00" textLength="49.21" lengthAdjust="spacingAndGlyphs">dim/BSA</text>
<text x="177.00" y="926.80" font-size="22.70" textLength="35.83" lengthAdjust="spacingAndGlyphs">-0.1</text>
<text x="246.00" y="926.80" font-size="22.70" textLength="10.00" lengthAdjust="spacingAndGlyphs">0</text>
<text x="294.00" y="926.80" font-size="22.70" textLength="28.00" lengthAdjust="spacingAndGlyphs">0.1</text>
<text x="360.00" y="926.80" font-size="22.70" textLength="28.44" lengthAdjust="spacingAndGlyphs">0.2</text>
<text x="427.00" y="926.80" font-size="22.70" textLength="28.61" lengthAdjust="spacingAndGlyphs">0.3</text>
<text x="486.50" y="926.80" font-size="22.70" textLength="29.43" lengthAdjust="spacingAndGlyphs">0.4</text>
<text x="245.50" y="957.20" font-size="23.30" textLength="198.02" lengthAdjust="spacingAndGlyphs">Partial Correlation</text>
<text transform="translate(934.00,770.50) rotate(-90)" x="0" y="0" font-size="23.80" textLength="138.42" lengthAdjust="spacingAndGlyphs">standardized</text>
<text transform="translate(934.00,870.00) rotate(-90)" x="0" y="0" font-size="23.80" textLength="92.64" lengthAdjust="spacingAndGlyphs">adjusted</text>
<text transform="translate(934.00,1009.00) rotate(-90)" x="0" y="0" font-size="23.80" textLength="133.44" lengthAdjust="spacingAndGlyphs">Multivariate</text>
<text transform="translate(965.00,830.50) rotate(-90)" x="0" y="0" font-size="23.80" textLength="68.41" lengthAdjust="spacingAndGlyphs">versus</text>
<text transform="translate(965.00,854.50) rotate(-90)" x="0" y="0" font-size="23.80" textLength="17.40" lengthAdjust="spacingAndGlyphs">s’</text>
<text transform="translate(965.00,882.00) rotate(-90)" x="0" y="0" font-size="23.80" textLength="21.65" lengthAdjust="spacingAndGlyphs">of</text>
<text transform="translate(965.00,902.00) rotate(-90)" x="0" y="0" font-size="23.80" textLength="13.00" lengthAdjust="spacingAndGlyphs">β</text>
<text x="990.50" y="677.70" font-size="22.90" textLength="29.02" lengthAdjust="spacingAndGlyphs">0.2</text>
<text x="990.00" y="753.00" font-size="22.90" textLength="29.02" lengthAdjust="spacingAndGlyphs">0.1</text>
<text x="990.00" y="828.50" font-size="22.90" textLength="11.92" lengthAdjust="spacingAndGlyphs">0</text>
<text x="980.00" y="904.10" font-size="22.90" textLength="35.24" lengthAdjust="spacingAndGlyphs">-0.1</text>
<text x="980.00" y="979.00" font-size="22.90" textLength="36.25" lengthAdjust="spacingAndGlyphs">-0.2</text>
<text x="1062.00" y="806.80" font-size="24.30" textLength="39.24" lengthAdjust="spacingAndGlyphs">cPP</text>
<text x="1114.00" y="854.50" font-size="24.30" textLength="47.02" lengthAdjust="spacingAndGlyphs">ANP</text>
<text transform="translate(1390.90,770.00) rotate(-90)" x="0" y="0" font-size="23.80" textLength="139.03" lengthAdjust="spacingAndGlyphs">standardized</text>
<text transform="translate(1390.90,868.50) rotate(-90)" x="0" y="0" font-size="23.80" textLength="91.85" lengthAdjust="spacingAndGlyphs">adjusted</text>
<text transform="translate(1390.90,1007.50) rotate(-90)" x="0" y="0" font-size="23.80" textLength="132.41" lengthAdjust="spacingAndGlyphs">Multivariate</text>
<text transform="translate(1422.00,827.50) rotate(-90)" x="0" y="0" font-size="23.80" textLength="66.21" lengthAdjust="spacingAndGlyphs">versus</text>
<text transform="translate(1422.00,854.50) rotate(-90)" x="0" y="0" font-size="23.80" textLength="19.92" lengthAdjust="spacingAndGlyphs">e’</text>
<text transform="translate(1422.00,882.00) rotate(-90)" x="0" y="0" font-size="23.80" textLength="21.65" lengthAdjust="spacingAndGlyphs">of</text>
<text transform="translate(1422.00,902.00) rotate(-90)" x="0" y="0" font-size="23.80" textLength="14.40" lengthAdjust="spacingAndGlyphs">β</text>
<text x="1443.50" y="669.20" font-size="22.90" textLength="28.40" lengthAdjust="spacingAndGlyphs">0.1</text>
<text x="1442.50" y="723.00" font-size="22.90" textLength="12.10" lengthAdjust="spacingAndGlyphs">0</text>
<text x="1438.50" y="776.60" font-size="22.90" textLength="36.01" lengthAdjust="spacingAndGlyphs">-0.1</text>
<text x="1433.50" y="830.60" font-size="22.90" textLength="35.61" lengthAdjust="spacingAndGlyphs">-0.2</text>
<text x="1432.50" y="884.80" font-size="22.90" textLength="37.04" lengthAdjust="spacingAndGlyphs">-0.3</text>
<text x="1432.50" y="938.70" font-size="22.90" textLength="36.01" lengthAdjust="spacingAndGlyphs">-0.4</text>
<text x="1432.50" y="992.00" font-size="22.90" textLength="37.07" lengthAdjust="spacingAndGlyphs">-0.5</text>
<text x="1522.50" y="699.90" font-size="24.30" textLength="38.01" lengthAdjust="spacingAndGlyphs">cPP</text>
<text x="1591.50" y="747.40" font-size="24.30" textLength="46.01" lengthAdjust="spacingAndGlyphs">ANP</text>
<text x="1657.00" y="698.90" font-size="24.30" textLength="44.24" lengthAdjust="spacingAndGlyphs">AGE</text>
<text x="1724.50" y="698.90" font-size="24.30" textLength="46.17" lengthAdjust="spacingAndGlyphs">BMI</text>
<text class="st" transform="translate(1129.10,634.50) rotate(90)" x="0" y="12.55" font-size="24.60" text-anchor="middle">*</text>
<text class="st" transform="translate(1144.70,634.50) rotate(90)" x="0" y="12.55" font-size="24.60" text-anchor="middle">*</text>
<text class="st" transform="translate(1083.90,991.60) rotate(90)" x="0" y="12.55" font-size="24.60" text-anchor="middle">*</text>
<text class="st" transform="translate(1604.80,624.80) rotate(90)" x="0" y="12.55" font-size="24.60" text-anchor="middle">*</text>
<text class="st" transform="translate(1620.10,624.80) rotate(90)" x="0" y="12.55" font-size="24.60" text-anchor="middle">*</text>
<text class="st" transform="translate(1540.50,799.70) rotate(90)" x="0" y="12.55" font-size="24.60" text-anchor="middle">*</text>
<text class="st" transform="translate(1739.60,856.30) rotate(90)" x="0" y="12.55" font-size="24.60" text-anchor="middle">*</text>
<text class="st" transform="translate(1755.30,856.30) rotate(90)" x="0" y="12.55" font-size="24.60" text-anchor="middle">*</text>
<text class="st" transform="translate(1770.60,856.30) rotate(90)" x="0" y="12.55" font-size="24.60" text-anchor="middle">*</text>
<text class="st" transform="translate(1668.80,1018.10) rotate(90)" x="0" y="12.55" font-size="24.60" text-anchor="middle">*</text>
<text class="st" transform="translate(1684.10,1018.10) rotate(90)" x="0" y="12.55" font-size="24.60" text-anchor="middle">*</text>
<text class="st" transform="translate(1699.60,1018.10) rotate(90)" x="0" y="12.55" font-size="24.60" text-anchor="middle">*</text>
</g>
</svg></body></html>
